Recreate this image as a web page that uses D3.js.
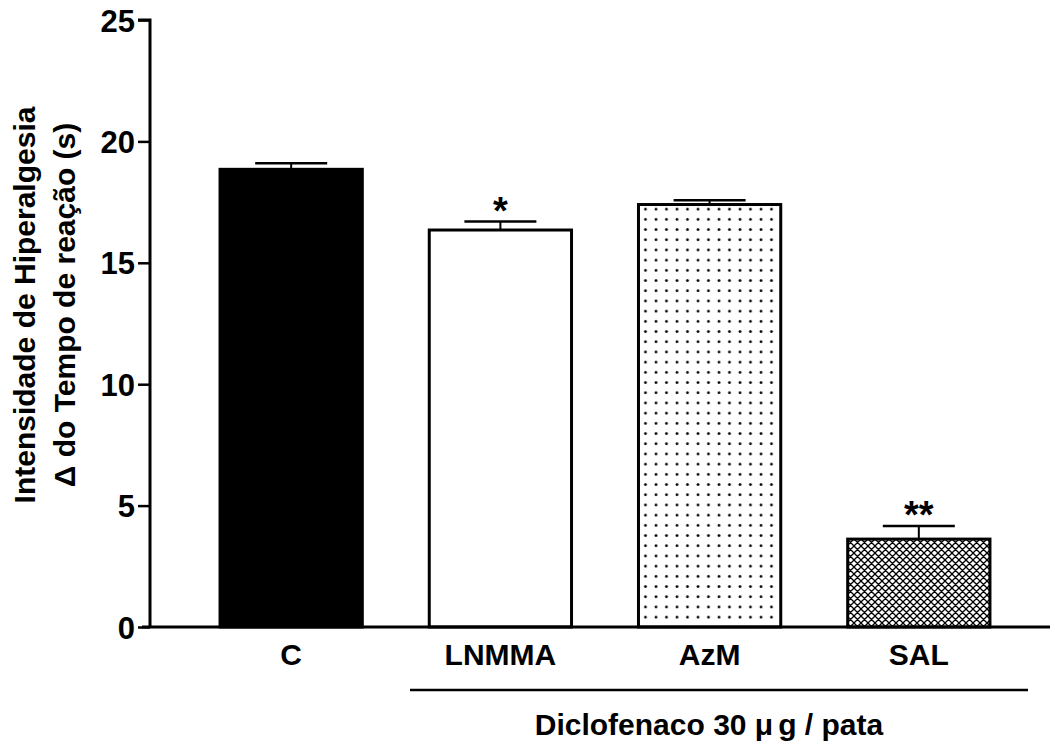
<!DOCTYPE html>
<html>
<head>
<meta charset="utf-8">
<script src="https://cdn.jsdelivr.net/npm/d3@7"></script>
<style>
  body { margin: 0; background: #fff; }
  text { font-family: "Liberation Sans", Arial, sans-serif; font-weight: bold; fill: #000; }
</style>
</head>
<body>
<svg id="chart" width="1055" height="744"></svg>
<script>
// Hyperalgesia intensity by treatment group
const categories = ["C", "LNMMA", "AzM", "SAL"];
const means = [18.85, 16.35, 17.4, 3.62];
const sem = [0.25, 0.35, 0.18, 0.54];
const marks = ["", "*", "", "**"];
const fills = ["solid", "white", "dots", "hatch"];
const yTicks = [0, 5, 10, 15, 20, 25];

const svg = d3.select("#chart");
const axLeft = 150, axRight = 1050, axTop = 20, axBottom = 627;
const fontFamily = "Liberation Sans, Arial, sans-serif";

const x = d3.scaleBand().domain(categories).range([151, 1059]).paddingInner(0.32).paddingOuter(0.33);
const y = d3.scaleLinear().domain([0, 25]).range([axBottom, axTop]);

const defs = svg.append("defs");
const dots = defs.append("pattern").attr("id", "dots").attr("patternUnits", "userSpaceOnUse")
  .attr("width", 10.5).attr("height", 10.2);
dots.append("rect").attr("width", 10.5).attr("height", 10.2).attr("fill", "#fff");
dots.append("circle").attr("cx", 5).attr("cy", 5).attr("r", 1.4).attr("fill", "#000");

const hatch = defs.append("pattern").attr("id", "hatch").attr("patternUnits", "userSpaceOnUse")
  .attr("width", 7).attr("height", 7);
hatch.append("rect").attr("width", 7).attr("height", 7).attr("fill", "#fff");
hatch.append("path").attr("d", "M-1,1 L1,-1 M0,7 L7,0 M6,8 L8,6 M-1,6 L1,8 M0,0 L7,7 M6,-1 L8,1")
  .attr("stroke", "#000").attr("stroke-width", 1.3);

const fillFor = f => f === "solid" ? "#000" : f === "white" ? "#fff" : f === "dots" ? "url(#dots)" : "url(#hatch)";

// error bars (drawn beneath bars so only the upper whisker shows)
const g = svg.append("g");
categories.forEach((c, i) => {
  const cx = x(c) + x.bandwidth() / 2;
  g.append("line").attr("x1", cx).attr("x2", cx).attr("y1", y(means[i])).attr("y2", y(means[i] + sem[i]))
    .attr("stroke", "#000").attr("stroke-width", 2);
  g.append("line").attr("x1", cx - 36).attr("x2", cx + 36).attr("y1", y(means[i] + sem[i])).attr("y2", y(means[i] + sem[i]))
    .attr("stroke", "#000").attr("stroke-width", 2.5);
});

g.selectAll("rect.bar").data(categories).join("rect").attr("class", "bar")
  .attr("x", d => x(d)).attr("width", x.bandwidth())
  .attr("y", (d, i) => y(means[i])).attr("height", (d, i) => y(0) - y(means[i]))
  .attr("fill", (d, i) => fillFor(fills[i]))
  .attr("stroke", "#000").attr("stroke-width", 3);

// significance marks
categories.forEach((c, i) => {
  if (!marks[i]) return;
  svg.append("text").attr("x", x(c) + x.bandwidth() / 2).attr("y", y(means[i] + sem[i]) + 2)
    .attr("text-anchor", "middle").attr("font-size", 38).text(marks[i]);
});

// y axis
const yAxis = d3.axisLeft(y).tickValues(yTicks).tickSize(12).tickPadding(3).tickFormat(d3.format("d"));
const ya = svg.append("g").attr("transform", `translate(${axLeft},0)`).call(yAxis);
ya.select(".domain").attr("stroke", "#000").attr("stroke-width", 3).attr("d", `M-12,${axTop}H0V${axBottom}`);
ya.selectAll(".tick line").attr("stroke-width", 2.5);
ya.selectAll(".tick text").attr("font-size", 31).attr("font-family", fontFamily).attr("font-weight", "bold")
  .attr("dy", "0.36em");

// x axis
const xAxis = d3.axisBottom(x).tickSize(0);
const xa = svg.append("g").attr("transform", `translate(0,${axBottom})`).call(xAxis);
xa.select(".domain").attr("stroke", "#000").attr("stroke-width", 3).attr("d", `M${axLeft - 8},0H${axRight}`);
xa.selectAll(".tick text").attr("font-size", 30).attr("font-family", fontFamily).attr("font-weight", "bold")
  .attr("y", 38).attr("dy", 0);

// treatment bracket
svg.append("line").attr("x1", 410).attr("x2", 1028).attr("y1", 690).attr("y2", 690)
  .attr("stroke", "#000").attr("stroke-width", 2.5);
const sub = svg.append("text").attr("x", 709).attr("y", 735).attr("text-anchor", "middle").attr("font-size", 30);
sub.append("tspan").text("Diclofenaco 30 μ");
sub.append("tspan").attr("dx", 5).text("g / pata");

// y title
const yt = svg.append("text").attr("transform", "translate(35,305) rotate(-90)").attr("text-anchor", "middle").attr("font-size", 30);
yt.append("tspan").attr("x", 0).attr("dy", 0).text("Intensidade de Hiperalgesia");
yt.append("tspan").attr("x", 0).attr("dy", 40).text("Δ do Tempo de reação (s)");
</script>
</body>
</html>
